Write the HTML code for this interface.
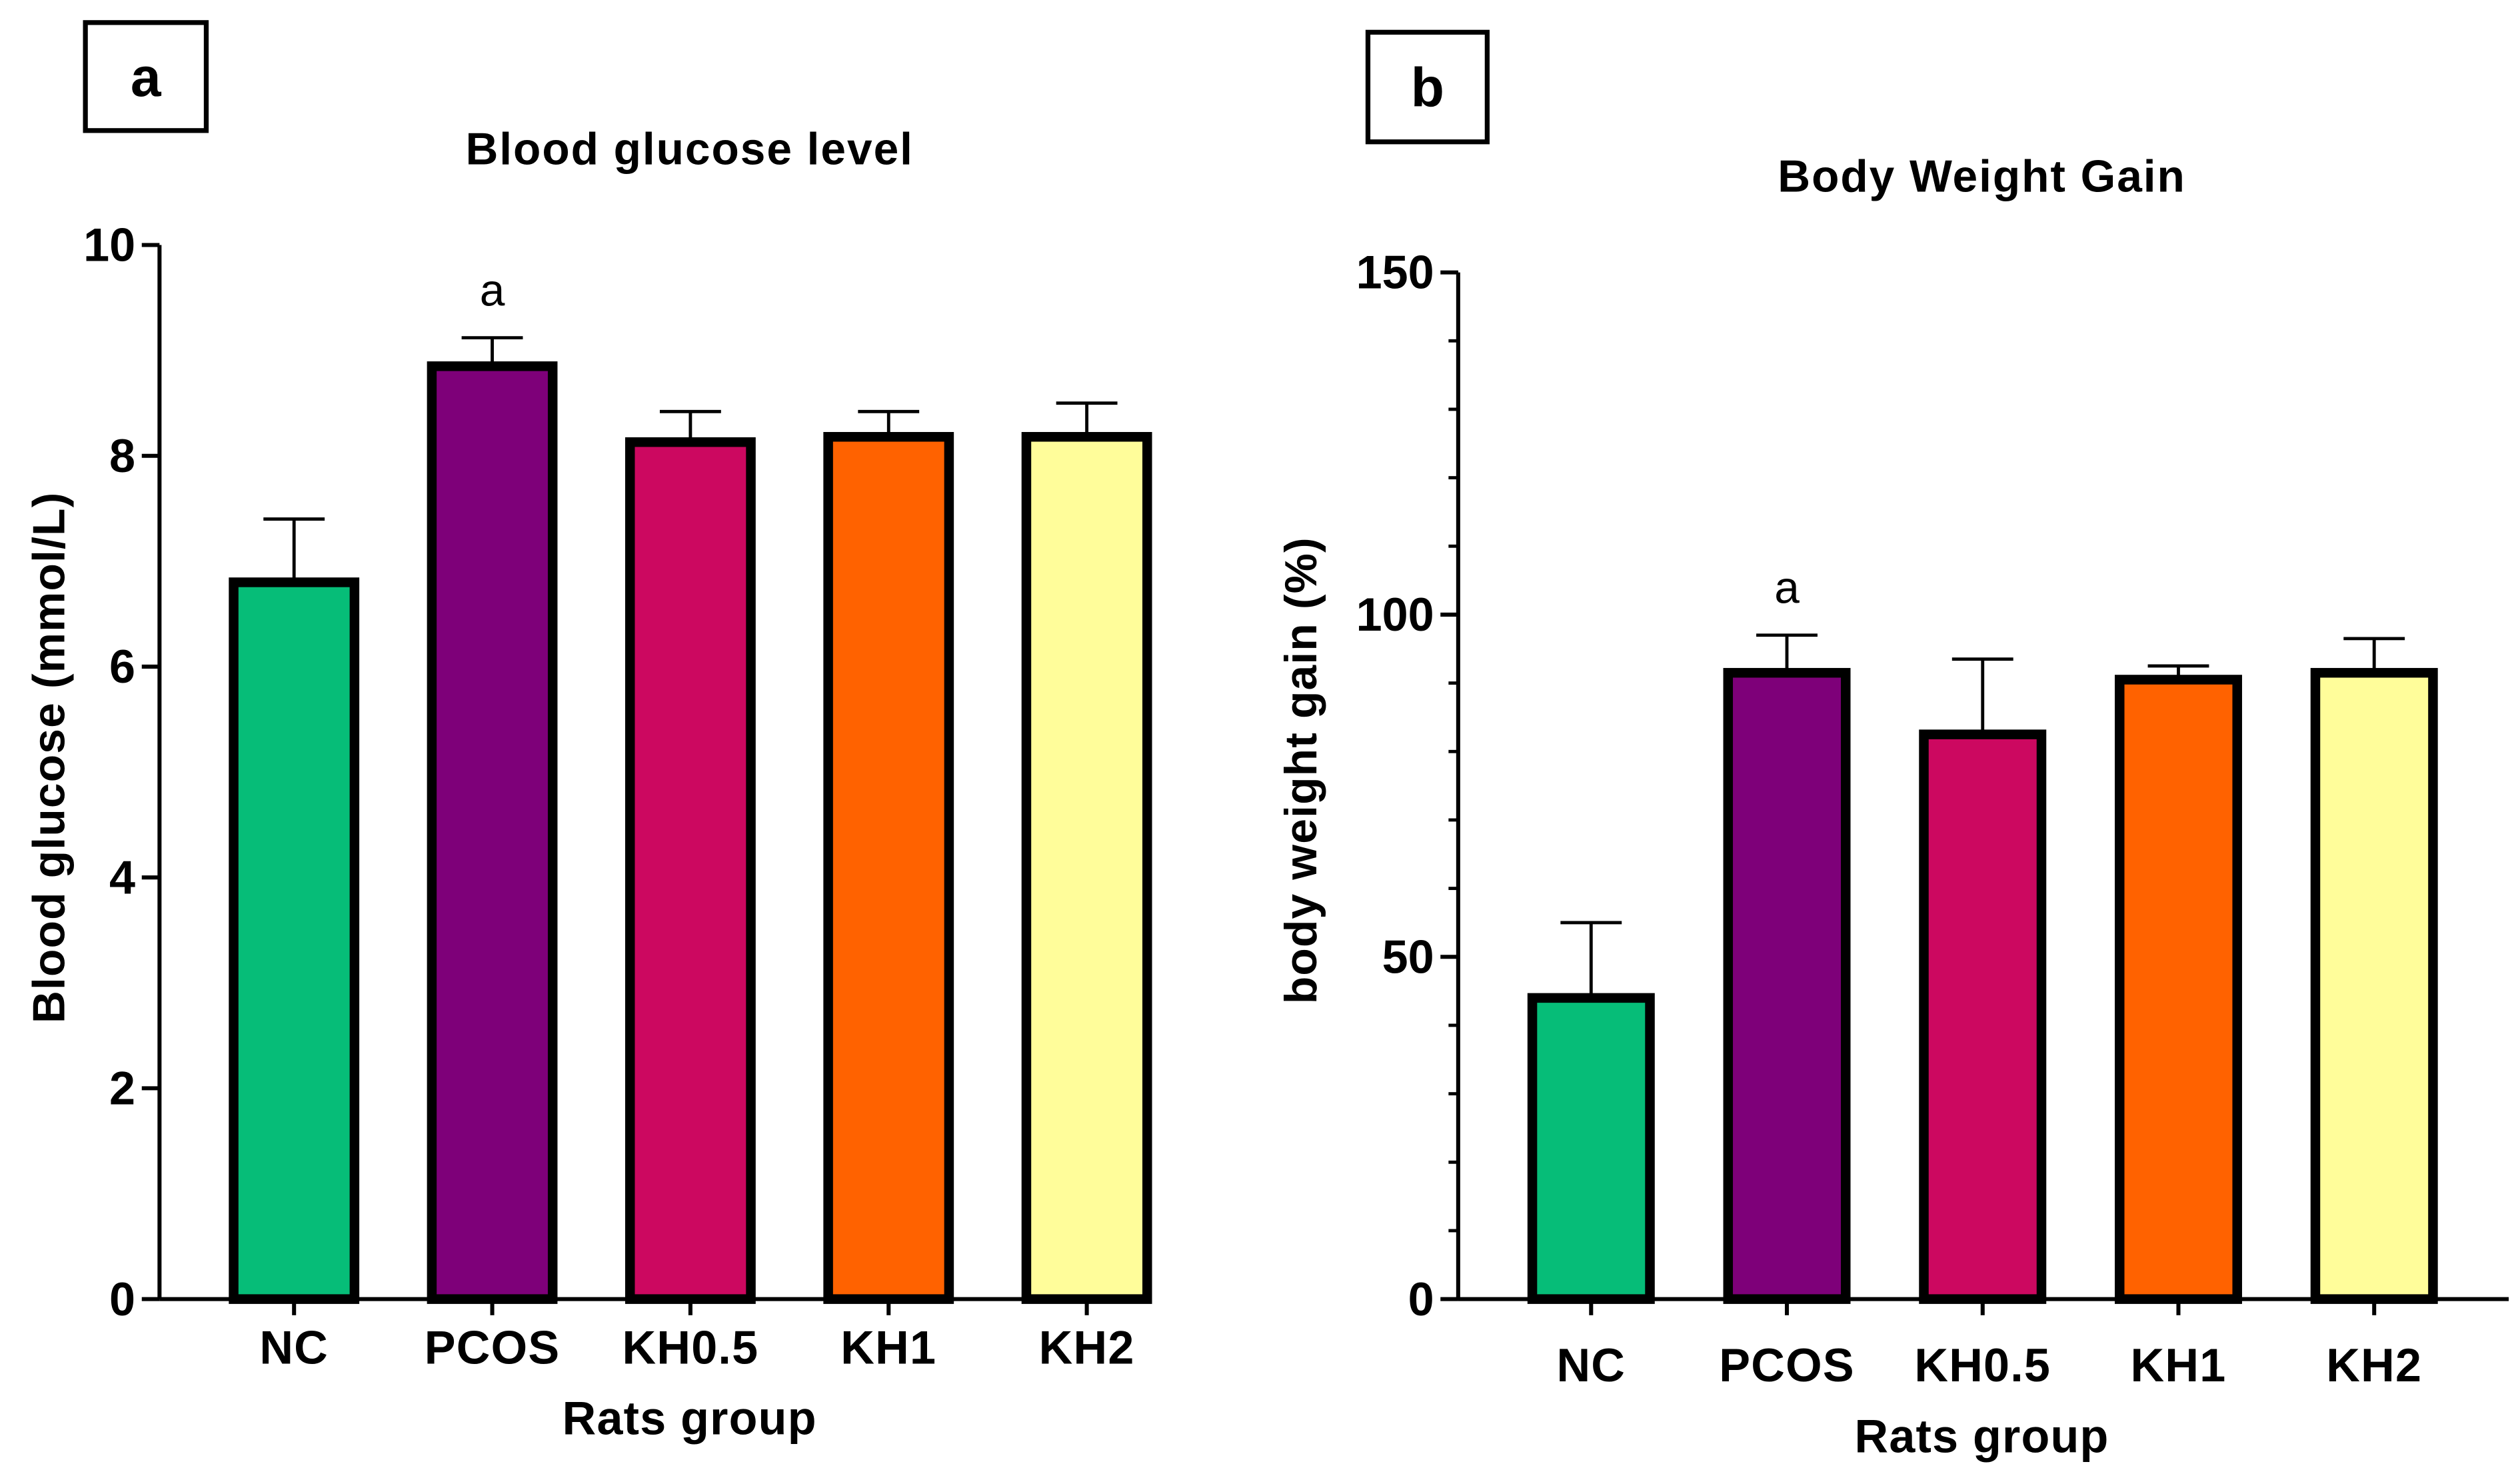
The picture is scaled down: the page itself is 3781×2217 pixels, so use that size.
<!DOCTYPE html>
<html><head><meta charset="utf-8"><style>html,body{margin:0;padding:0;background:#fff}svg{display:block}text{font-family:"Liberation Sans",sans-serif;font-weight:bold}</style></head>
<body>
<svg id="fig" width="3781" height="2217" viewBox="0 0 1564 917" preserveAspectRatio="none" xmlns="http://www.w3.org/2000/svg">
<rect x="0" y="0" width="1564" height="917" fill="#fff"/>
</svg>
<script>
const categories = ["NC","PCOS","KH0.5","KH1","KH2"];
const colors = ["#06BD78","#7E0079","#CC0860","#FF6200","#FFFD9A"];
const glucoseMeans = [6.8, 8.85, 8.13, 8.18, 8.18];
const glucoseErr = [0.6, 0.27, 0.29, 0.24, 0.32];
const glucoseTicks = [0,2,4,6,8,10];
const weightMeans = [44, 91.5, 82.5, 90.5, 91.5];
const weightErr = [11, 5.5, 11, 2, 5];
const weightTicks = [0,50,100,150];
const NS = "http://www.w3.org/2000/svg";
const svg = document.getElementById('fig');
function mk(tag, attrs, parent, txt){const e=document.createElementNS(NS,tag);for(const k in attrs)e.setAttribute(k,attrs[k]);if(txt!==undefined)e.textContent=txt;(parent||svg).appendChild(e);return e;}

function panel(o){
  const g = mk('g',{});
  
  
  const box = mk('rect',{x:o.box[0],y:o.box[1],width:o.box[2],height:o.box[3],fill:'none',stroke:'#000','stroke-width':3},g);
  
  
  const bl = mk('text',{x:o.box[0]+o.box[2]/2,y:o.box[1]+o.box[3]/2+12,'text-anchor':'middle','font-size':34},g,o.letter);
  
  
  const t = mk('text',{x:o.titleX,y:o.titleY,'text-anchor':'middle','font-size':28,'letter-spacing':'0.8'},g,o.title);
  
  
  const y = v => o.y0 - (v - 0) / o.ymax * (o.y0 - o.ytop);
  categories.forEach((c,i)=>{
    const x0 = o.barX0 + i*o.step, cx = x0 + o.bw/2;
    const top = y(o.means[i]), et = y(o.means[i]+o.err[i]);
    const el = mk('line',{x1:cx,x2:cx,y1:top,y2:et,stroke:'#000','stroke-width':2},g);
    
    
    const cap = mk('line',{x1:cx-19,x2:cx+19,y1:et,y2:et,stroke:'#000','stroke-width':2},g);
    
    
    const b = mk('rect',{x:x0+3,y:top,width:o.bw-6,height:o.y0-top,fill:colors[i],stroke:'#000','stroke-width':6},g);
    
    
    const tk = mk('line',{x1:cx,x2:cx,y1:o.y0,y2:o.y0+10,stroke:'#000','stroke-width':2.5},g);
    
    
    const tl = mk('text',{x:cx,y:o.y0+o.tlOff,'text-anchor':'middle','font-size':29,'letter-spacing':'0.5'},g,c);
    
    
  });
  const sx = o.barX0 + o.step + o.bw/2;
  const sl = mk('text',{x:sx,y:y(o.means[1]+o.err[1])-20,'text-anchor':'middle','font-size':28,style:'font-weight:normal'},g,'a');
  
  
  const ya = mk('line',{x1:o.ax,x2:o.ax,y1:o.ytop,y2:o.y0,stroke:'#000','stroke-width':2.5},g);
  
  
  const xa = mk('line',{x1:o.ax,x2:o.xend,y1:o.y0,y2:o.y0,stroke:'#000','stroke-width':2.5},g);
  
  
  if(o.minor){
    for(let v=0; v<=o.ymax; v+=o.minor){
      const m = mk('line',{x1:o.ax-6,x2:o.ax,y1:y(v),y2:y(v),stroke:'#000','stroke-width':2},g);
      
      
    }
  }
  o.ticks.forEach(v=>{
    const tk = mk('line',{x1:o.ax-11,x2:o.ax,y1:y(v),y2:y(v),stroke:'#000','stroke-width':2.5},g);
    
    
    const tl = mk('text',{x:o.ax-15,y:y(v)+10,'text-anchor':'end','font-size':29},g,String(v));
    
    
  });
  const xt = mk('text',{x:o.xtX,y:o.y0+o.xtOff,'text-anchor':'middle','font-size':29,'letter-spacing':'0.5'},g,'Rats group');
  
  
  const yt = mk('text',{x:0,y:0,'text-anchor':'middle','font-size':28,'letter-spacing':'0.5',transform:`translate(${o.ytX},${o.ytY}) rotate(-90)`},g,o.ytitle);
  
  
}
panel({id:'glucose',letter:'a',box:[53,14,75,67],title:'Blood glucose level',titleX:428,titleY:102,
  y0:806,ytop:152,ymax:10,ax:99,xend:712,barX0:142,step:123,bw:81,means:glucoseMeans,err:glucoseErr,ticks:glucoseTicks,minor:0,
  tlOff:40,xtOff:84,xtX:428,ytX:40,ytY:470,ytitle:'Blood glucose (mmol/L)'});
panel({id:'weight',letter:'b',box:[849,20,74,68],title:'Body Weight Gain',titleX:1230,titleY:119,
  y0:806,ytop:169,ymax:150,ax:905,xend:1557,barX0:948,step:121.5,bw:79,means:weightMeans,err:weightErr,ticks:weightTicks,minor:10,
  tlOff:51,xtOff:95,xtX:1230,ytX:817,ytY:478,ytitle:'body weight gain (%)'});
</script>
</body></html>
